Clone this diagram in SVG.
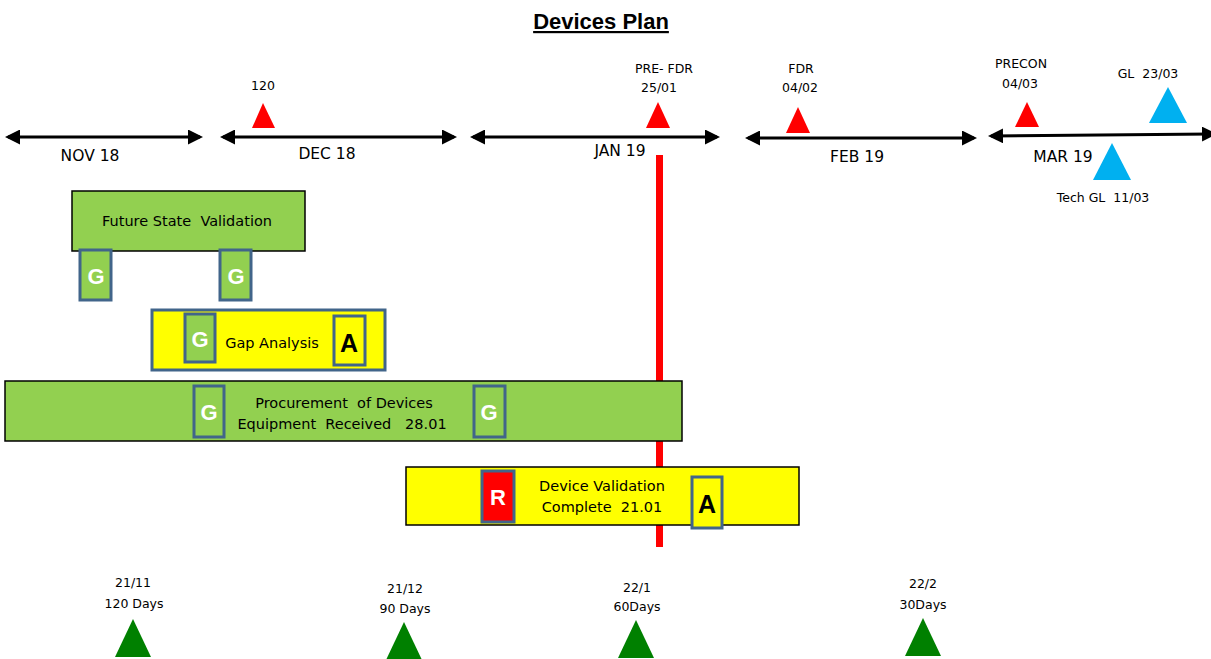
<svg xmlns="http://www.w3.org/2000/svg" width="1211" height="659" viewBox="0 0 1211 659">
<style>
text{font-family:"DejaVu Sans","Liberation Sans",sans-serif;fill:#000;text-anchor:middle;white-space:pre}
.t{font-family:"Liberation Sans",Arial,sans-serif;font-size:22px;font-weight:bold;text-decoration:underline}
.m{font-size:15.5px}
.s{font-size:12.5px}
.b{font-size:14.5px}
.line{stroke:#000;stroke-width:3;fill:none}
.green{fill:#92D050;stroke:#000;stroke-width:1.5}
.yellow{fill:#FFFF00;stroke:#000;stroke-width:1.5}
.yb{fill:#FFFF00;stroke:#41658A;stroke-width:3}
.badgeG{fill:#92D050;stroke:#41658A;stroke-width:3}
.badgeA{fill:#FFFF00;stroke:#41658A;stroke-width:3}
.badgeR{fill:#FF0000;stroke:#41658A;stroke-width:3}
.lw{font-family:"Liberation Sans",Arial,sans-serif;font-size:22px;font-weight:bold;fill:#fff}
.lk{font-family:"Liberation Sans",Arial,sans-serif;font-size:25px;font-weight:bold;fill:#000}
.red{fill:#FF0000}
.blue{fill:#00B0F0}
.grn{fill:#008000}
</style>
<defs>
<marker id="ah" viewBox="0 0 10 10" refX="8" refY="5" markerWidth="5" markerHeight="5" orient="auto-start-reverse" markerUnits="strokeWidth">
<path d="M0,0 L10,5 L0,10 z" fill="#000"/>
</marker>
</defs>
<text class="t" x="601" y="29">Devices Plan</text>
<g id="connectors">
<line class="line" x1="8" y1="137" x2="200" y2="137" marker-start="url(#ah)" marker-end="url(#ah)"/>
<line class="line" x1="223" y1="137" x2="454" y2="137" marker-start="url(#ah)" marker-end="url(#ah)"/>
<line class="line" x1="473" y1="137" x2="717" y2="137" marker-start="url(#ah)" marker-end="url(#ah)"/>
<line class="line" x1="748" y1="138" x2="974" y2="138" marker-start="url(#ah)" marker-end="url(#ah)"/>
<line class="line" x1="991" y1="136" x2="1214" y2="134" marker-start="url(#ah)" marker-end="url(#ah)"/>
<rect x="656" y="155" width="7" height="392" fill="#FF0000"/>
</g>
<g id="month-labels">
<text class="m" x="90" y="161">NOV 18</text>
<text class="m" x="327" y="159">DEC 18</text>
<text class="m" x="620" y="156">JAN 19</text>
<text class="m" x="857" y="162">FEB 19</text>
<text class="m" x="1063" y="162">MAR 19</text>
</g>
<g id="ms-120">
<polygon class="red" points="263,103 252,128 275,128"/>
<text class="s" x="263" y="90">120</text>
</g>
<g id="ms-prefdr">
<polygon class="red" points="658,102 646,128 670,128"/>
<text class="s" x="664" y="73">PRE- FDR</text>
<text class="s" x="659" y="92">25/01</text>
</g>
<g id="ms-fdr">
<polygon class="red" points="798,107 786,133 810,133"/>
<text class="s" x="801" y="73">FDR</text>
<text class="s" x="800" y="92">04/02</text>
</g>
<g id="ms-precon">
<polygon class="red" points="1027,102 1015,127 1039,127"/>
<text class="s" x="1021" y="68">PRECON</text>
<text class="s" x="1020" y="88">04/03</text>
</g>
<g id="ms-gl">
<polygon class="blue" points="1168,87 1149,123 1187,123"/>
<text class="s" x="1148" y="78">GL  23/03</text>
</g>
<g id="ms-techgl">
<polygon class="blue" points="1112,143 1093,180 1131,180"/>
<text class="s" x="1103" y="202">Tech GL  11/03</text>
</g>
<g id="future-state">
<rect class="green" x="72" y="191" width="233" height="60"/>
<text class="b" x="187" y="226">Future State  Validation</text>
<rect class="badgeG" x="80" y="250" width="31" height="50"/>
<text class="lw" x="96" y="284">G</text>
<rect class="badgeG" x="220" y="250" width="31" height="50"/>
<text class="lw" x="236" y="284">G</text>
</g>
<g id="gap-analysis">
<rect class="yb" x="152" y="310" width="233" height="60"/>
<rect class="badgeG" x="185" y="314" width="30" height="48"/>
<text class="lw" x="200" y="347">G</text>
<text class="b" x="272" y="348">Gap Analysis</text>
<rect class="badgeA" x="334" y="316" width="31" height="49"/>
<text class="lk" x="349" y="352">A</text>
</g>
<g id="procurement">
<rect class="green" x="5" y="381" width="677" height="60"/>
<rect class="badgeG" x="194" y="386" width="30" height="51"/>
<text class="lw" x="209" y="420">G</text>
<rect class="badgeG" x="474" y="386" width="31" height="51"/>
<text class="lw" x="489" y="420">G</text>
<text class="b" x="344" y="408">Procurement  of Devices</text>
<text class="b" x="342" y="429">Equipment  Received   28.01</text>
</g>
<g id="device-validation">
<rect class="yellow" x="406" y="467" width="393" height="58"/>
<rect class="badgeR" x="482" y="471" width="32" height="51"/>
<text class="lw" x="498" y="505">R</text>
<text class="b" x="602" y="491">Device Validation</text>
<text class="b" x="602" y="512">Complete  21.01</text>
<rect class="badgeA" x="692" y="477" width="30" height="51"/>
<text class="lk" x="707" y="513">A</text>
</g>
<g id="g-2111">
<polygon class="grn" points="133,619 115,657 151,657"/>
<text class="s" x="133" y="587">21/11</text>
<text class="s" x="134" y="608">120 Days</text>
</g>
<g id="g-2112">
<polygon class="grn" points="404,622 386,660 422,660"/>
<text class="s" x="405" y="593">21/12</text>
<text class="s" x="405" y="613">90 Days</text>
</g>
<g id="g-221">
<polygon class="grn" points="636,620 618,658 654,658"/>
<text class="s" x="637" y="592">22/1</text>
<text class="s" x="637" y="611">60Days</text>
</g>
<g id="g-222">
<polygon class="grn" points="923,618 905,656 941,656"/>
<text class="s" x="923" y="588">22/2</text>
<text class="s" x="923" y="609">30Days</text>
</g>
</svg>
